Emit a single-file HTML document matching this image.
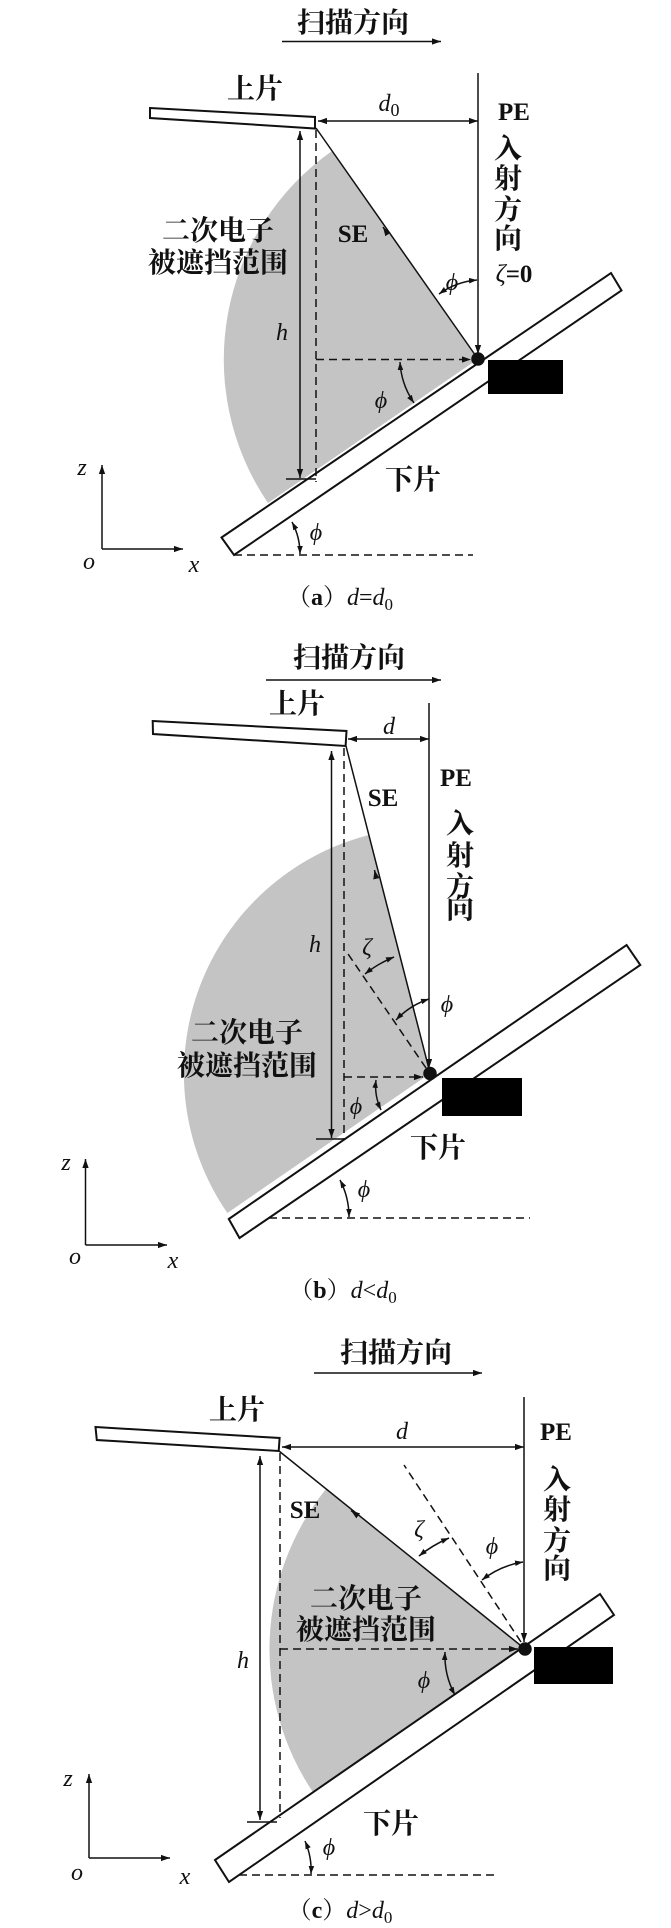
<!DOCTYPE html>
<html><head><meta charset="utf-8">
<style>
html,body{margin:0;padding:0;background:#fff;}
svg{display:block;}
.cn{font-family:"Liberation Serif","Noto Serif CJK SC",serif;font-size:28px;fill:#111;font-weight:bold;}
.it{font-family:"Liberation Serif",serif;font-style:italic;font-size:24px;fill:#111;}
.bd{font-family:"Liberation Serif",serif;font-weight:bold;font-size:25px;fill:#111;}
.cap{font-family:"Liberation Serif","Noto Serif CJK SC",serif;font-size:24px;fill:#111;}
</style></head><body>
<svg width="671" height="1928" viewBox="0 0 671 1928" xmlns="http://www.w3.org/2000/svg">
<defs>
<marker id="ah" viewBox="0 0 10 10" refX="10" refY="5" markerWidth="9" markerHeight="9" markerUnits="userSpaceOnUse" orient="auto-start-reverse">
<path d="M0,1.5 L10,5 L0,8.5 Z" fill="#111"/></marker>
<marker id="ahs" viewBox="0 0 10 10" refX="10" refY="5" markerWidth="8" markerHeight="8" markerUnits="userSpaceOnUse" orient="auto-start-reverse">
<path d="M0,1.5 L10,5 L0,8.5 Z" fill="#111"/></marker>
</defs>
<g stroke="#111" fill="none" stroke-width="1.5">

<!-- ============ PANEL A ============ -->
<path d="M478,359 L332,151 A255,255 0 0 0 268,503 Z" fill="#c4c4c4" stroke="none"/>
<line x1="282" y1="41.5" x2="441" y2="41.5" marker-end="url(#ah)"/>
<polygon points="150,108 315,117 315,128.5 150,118" fill="#fff" stroke-width="2"/>
<line x1="318" y1="121" x2="478" y2="121" marker-start="url(#ah)" marker-end="url(#ah)"/>
<line x1="478" y1="73" x2="478" y2="354" marker-end="url(#ah)"/>
<polygon points="221.5,537.5 611,273 621.5,290.5 234,555" fill="#fff" stroke-width="2"/>
<rect x="488" y="360" width="75" height="34" fill="#000" stroke="none"/>
<line x1="316" y1="128" x2="478" y2="359"/>
<line x1="387" y1="233" x2="383" y2="227" marker-end="url(#ah)"/>
<line x1="316" y1="130" x2="316" y2="482" stroke-dasharray="8,5"/>
<line x1="316" y1="359.5" x2="471" y2="359.5" stroke-dasharray="8,5" marker-end="url(#ah)"/>
<line x1="300" y1="131" x2="300" y2="478" marker-start="url(#ah)" marker-end="url(#ah)"/>
<line x1="286" y1="479" x2="316" y2="479"/>
<circle cx="478" cy="359" r="6" fill="#111"/>
<path d="M439,294 A76,76 0 0 1 477,280" marker-start="url(#ahs)" marker-end="url(#ahs)"/>
<path d="M400,362 A80,80 0 0 0 414,403" marker-start="url(#ahs)" marker-end="url(#ahs)"/>
<path d="M292,522 A68,68 0 0 1 300,554" marker-start="url(#ahs)" marker-end="url(#ahs)"/>
<line x1="234" y1="555" x2="473" y2="555" stroke-dasharray="8,5"/>
<line x1="102" y1="549" x2="102" y2="465" marker-end="url(#ah)"/>
<line x1="102" y1="549" x2="183" y2="549" marker-end="url(#ah)"/>

<!-- ============ PANEL B ============ -->
<path d="M430,1073.5 L369,835 A246,246 0 0 0 227.4,1213 Z" fill="#c4c4c4" stroke="none"/>
<line x1="266" y1="680" x2="441" y2="680" marker-end="url(#ah)"/>
<polygon points="152.7,721 346.5,731 345.6,746 153,734" fill="#fff" stroke-width="2"/>
<line x1="348" y1="739" x2="429" y2="739" marker-start="url(#ah)" marker-end="url(#ah)"/>
<line x1="429" y1="703" x2="429" y2="1068" marker-end="url(#ah)"/>
<polygon points="228.8,1219 626.6,945 640.3,965 239.5,1238" fill="#fff" stroke-width="2"/>
<rect x="442" y="1078" width="80" height="38" fill="#000" stroke="none"/>
<line x1="346" y1="746" x2="430" y2="1073"/>
<line x1="376" y1="877" x2="374.5" y2="870" marker-end="url(#ah)"/>
<line x1="344" y1="748" x2="344" y2="1139" stroke-dasharray="8,5"/>
<line x1="344" y1="1077" x2="423" y2="1077" stroke-dasharray="8,5" marker-end="url(#ah)"/>
<line x1="331.5" y1="751" x2="331.5" y2="1138" marker-start="url(#ah)" marker-end="url(#ah)"/>
<line x1="316" y1="1139" x2="344" y2="1139"/>
<line x1="426" y1="1068" x2="346" y2="951" stroke-dasharray="8,5"/>
<circle cx="430" cy="1073.5" r="6" fill="#111"/>
<path d="M365,974 A118,118 0 0 1 394,957" marker-start="url(#ahs)" marker-end="url(#ahs)"/>
<path d="M396,1020 A80,80 0 0 1 429,999" marker-start="url(#ahs)" marker-end="url(#ahs)"/>
<path d="M376,1080 A55,55 0 0 0 381,1110" marker-start="url(#ahs)" marker-end="url(#ahs)"/>
<path d="M340,1180 A80,80 0 0 1 349,1217" marker-start="url(#ahs)" marker-end="url(#ahs)"/>
<line x1="269" y1="1218" x2="530" y2="1218" stroke-dasharray="8,5"/>
<line x1="85.5" y1="1245" x2="85.5" y2="1159" marker-end="url(#ah)"/>
<line x1="85.5" y1="1245" x2="167" y2="1245" marker-end="url(#ah)"/>

<!-- ============ PANEL C ============ -->
<path d="M525,1649 L326,1489 A256,256 0 0 0 313.5,1793 Z" fill="#c4c4c4" stroke="none"/>
<line x1="314" y1="1373" x2="482" y2="1373" marker-end="url(#ah)"/>
<polygon points="95.5,1427 279.6,1438 278.7,1451 96.8,1440" fill="#fff" stroke-width="2"/>
<line x1="282" y1="1447" x2="524" y2="1447" marker-start="url(#ah)" marker-end="url(#ah)"/>
<line x1="524" y1="1397" x2="524" y2="1642" marker-end="url(#ah)"/>
<polygon points="215,1860 600,1594 614,1615 229,1882" fill="#fff" stroke-width="2"/>
<rect x="534" y="1647" width="79" height="37" fill="#000" stroke="none"/>
<line x1="279" y1="1451" x2="525" y2="1649"/>
<line x1="357" y1="1515" x2="351" y2="1510.5" marker-end="url(#ah)"/>
<line x1="280" y1="1453" x2="280" y2="1818" stroke-dasharray="8,5"/>
<line x1="280" y1="1649" x2="518" y2="1649" stroke-dasharray="8,5" marker-end="url(#ah)"/>
<line x1="260" y1="1456" x2="260" y2="1820" marker-start="url(#ah)" marker-end="url(#ah)"/>
<line x1="247" y1="1822" x2="277" y2="1822"/>
<line x1="521" y1="1642" x2="404" y2="1465" stroke-dasharray="8,5"/>
<circle cx="525" cy="1649" r="6" fill="#111"/>
<path d="M419,1556 A130,130 0 0 1 449,1538" marker-start="url(#ahs)" marker-end="url(#ahs)"/>
<path d="M482,1580 A90,90 0 0 1 523,1562" marker-start="url(#ahs)" marker-end="url(#ahs)"/>
<path d="M445,1652 A82,82 0 0 0 455,1695" marker-start="url(#ahs)" marker-end="url(#ahs)"/>
<path d="M305,1841 A73,73 0 0 1 311,1874" marker-start="url(#ahs)" marker-end="url(#ahs)"/>
<line x1="239" y1="1875" x2="499" y2="1875" stroke-dasharray="8,5"/>
<line x1="89" y1="1858" x2="89" y2="1774" marker-end="url(#ah)"/>
<line x1="89" y1="1858" x2="170" y2="1858" marker-end="url(#ah)"/>
</g>

<!-- ===== TEXT A ===== -->
<g text-anchor="middle">
<text class="cn" x="353" y="32">扫描方向</text>
<text class="cn" x="255" y="98">上片</text>
<text class="it" x="389" y="111">d<tspan font-style="normal" font-size="18" dy="5">0</tspan></text>
<text class="bd" x="514" y="120">PE</text>
<text class="cn" x="508" y="158">入</text>
<text class="cn" x="508" y="188">射</text>
<text class="cn" x="508" y="219">方</text>
<text class="cn" x="508" y="248">向</text>
<text class="bd" x="514" y="282"><tspan font-style="italic" font-weight="normal">ζ</tspan>=0</text>
<text class="cn" x="218" y="240">二次电子</text>
<text class="cn" x="218" y="272">被遮挡范围</text>
<text class="bd" x="353" y="242">SE</text>
<text class="it" x="282" y="340">h</text>
<text class="it" x="452" y="290">ϕ</text>
<text class="it" x="381" y="408">ϕ</text>
<text class="cn" x="413" y="489">下片</text>
<text class="it" x="316" y="540">ϕ</text>
<text class="it" x="82" y="475">z</text>
<text class="it" x="89" y="569">o</text>
<text class="it" x="194" y="572">x</text>
<text class="cap" x="340" y="605">（<tspan font-weight="bold">a</tspan>）<tspan font-style="italic">d</tspan>=<tspan font-style="italic">d</tspan><tspan font-size="17" dy="5">0</tspan></text>

<!-- ===== TEXT B ===== -->
<text class="cn" x="349" y="667">扫描方向</text>
<text class="cn" x="297" y="713">上片</text>
<text class="it" x="389" y="734">d</text>
<text class="bd" x="456" y="786">PE</text>
<text class="cn" x="460" y="833">入</text>
<text class="cn" x="460" y="865">射</text>
<text class="cn" x="460" y="896">方</text>
<text class="cn" x="460" y="918">向</text>
<text class="bd" x="383" y="806">SE</text>
<text class="it" x="315" y="952">h</text>
<text class="it" x="367" y="955">ζ</text>
<text class="it" x="447" y="1012">ϕ</text>
<text class="cn" x="247" y="1042">二次电子</text>
<text class="cn" x="247" y="1075">被遮挡范围</text>
<text class="it" x="356" y="1114">ϕ</text>
<text class="cn" x="438" y="1157">下片</text>
<text class="it" x="364" y="1197">ϕ</text>
<text class="it" x="66" y="1170">z</text>
<text class="it" x="75" y="1264">o</text>
<text class="it" x="173" y="1268">x</text>
<text class="cap" x="343" y="1298">（<tspan font-weight="bold">b</tspan>）<tspan font-style="italic">d</tspan>&lt;<tspan font-style="italic">d</tspan><tspan font-size="17" dy="5">0</tspan></text>

<!-- ===== TEXT C ===== -->
<text class="cn" x="396" y="1362">扫描方向</text>
<text class="cn" x="237" y="1419">上片</text>
<text class="it" x="402" y="1439">d</text>
<text class="bd" x="556" y="1440">PE</text>
<text class="cn" x="557" y="1489">入</text>
<text class="cn" x="557" y="1519">射</text>
<text class="cn" x="557" y="1550">方</text>
<text class="cn" x="557" y="1578">向</text>
<text class="bd" x="305" y="1518">SE</text>
<text class="it" x="419" y="1537">ζ</text>
<text class="it" x="492" y="1554">ϕ</text>
<text class="cn" x="366" y="1608">二次电子</text>
<text class="cn" x="366" y="1639">被遮挡范围</text>
<text class="it" x="243" y="1668">h</text>
<text class="it" x="424" y="1688">ϕ</text>
<text class="cn" x="391" y="1833">下片</text>
<text class="it" x="329" y="1855">ϕ</text>
<text class="it" x="68" y="1786">z</text>
<text class="it" x="77" y="1880">o</text>
<text class="it" x="185" y="1884">x</text>
<text class="cap" x="340" y="1918">（<tspan font-weight="bold">c</tspan>）<tspan font-style="italic">d</tspan>&gt;<tspan font-style="italic">d</tspan><tspan font-size="17" dy="5">0</tspan></text>
</g>
</svg>
</body></html>
